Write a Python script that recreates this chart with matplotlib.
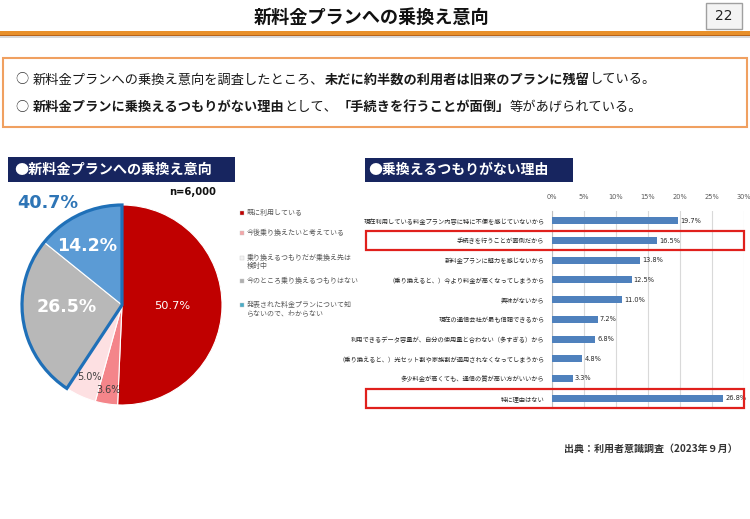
import numpy as np
import matplotlib
matplotlib.use('Agg')
import matplotlib.pyplot as plt
import matplotlib.transforms as mtransforms
from matplotlib.patches import Rectangle, Wedge

plt.rcParams['font.family'] = ['Noto Sans CJK JP', 'DejaVu Sans']

W, H = 750, 519

# ---- data ----
intent_labels = ['既に利用している',
                 '今後乗り換えたいと考えている',
                 '乗り換えるつもりだが乗換え先は\n検討中',
                 '今のところ乗り換えるつもりはない',
                 '発表された料金プランについて知\nらないので、わからない']
intent_values = np.array([50.7, 3.6, 5.0, 26.5, 14.2])
n_total = 6000

reason_labels = ['現在利用している料金プラン内容に特に不便を感じていないから',
                 '手続きを行うことが面倒だから',
                 '新料金プランに魅力を感じないから',
                 '（乗り換えると、）今より料金が高くなってしまうから',
                 '興味がないから',
                 '現在の通信会社が最も信頼できるから',
                 '利用できるデータ容量が、自分の使用量と合わない（多すぎる）から',
                 '（乗り換えると、）光セット割や家族割が適用されなくなってしまうから',
                 '多少料金が高くても、通信の質が高い方がいいから',
                 '特に理由はない']
reason_values = [19.7, 16.5, 13.8, 12.5, 11.0, 7.2, 6.8, 4.8, 3.3, 26.8]
highlight_rows = [1, 9]
x_ticks = [0, 5, 10, 15, 20, 25, 30]

# ---- styles ----
pie_colors = ['#C00000', '#F4858A', '#FDE0E2', '#B8B8B8', '#5B9BD5']
legend_colors = ['#C00000', '#F4A6A8', '#F2F2F2', '#B0B0B0', '#4BACC6']
navy = '#17255F'
orange = '#E8902A'

fig = plt.figure(figsize=(W / 100, H / 100), dpi=100)
bg = fig.add_axes([0, 0, 1, 1])
bg.set_xlim(0, W)
bg.set_ylim(H, 0)
bg.axis('off')
renderer = fig.canvas.get_renderer()


def seq_text(x, y, parts, size):
    # put text pieces one after another (mixed bold / normal)
    for s, w in parts:
        t = bg.text(x, y, s, fontsize=size, weight=w, va='center', ha='left',
                    color='#1A1A1A')
        x += t.get_window_extent(renderer=renderer).width


# header
bg.text(372, 17, '新料金プランへの乗換え意向', fontsize=13.1, weight='bold',
        ha='center', va='center', color='#111111')
bg.add_patch(Rectangle((706, 3), 36, 26, facecolor='#F4F4F4',
                       edgecolor='#A0A0A0', lw=1.0))
bg.text(724, 16, '22', fontsize=10, ha='center', va='center', color='#222222',
        family='DejaVu Sans')
bg.add_patch(Rectangle((0, 36), W, 2, facecolor='#D8D8D8', edgecolor='none'))
bg.add_patch(Rectangle((0, 31), W, 4.5, facecolor=orange, edgecolor='none'))
bg.add_patch(Rectangle((0, 34.5), W, 1.2, facecolor='#B8641A', edgecolor='none'))

# summary box
bg.add_patch(Rectangle((3, 58), 744, 69, facecolor='white',
                       edgecolor='#F0A060', lw=1.5))
bg.text(15, 80, '○', fontsize=9.5, va='center', color='#333333')
bg.text(15, 107, '○', fontsize=9.5, va='center', color='#333333')
seq_text(33, 80, [('新料金プランへの乗換え意向を調査したところ、', 'normal'),
                  ('未だに約半数の利用者は旧来のプランに残留', 'bold'),
                  ('している。', 'normal')], 9.5)
seq_text(33, 107, [('新料金プランに乗換えるつもりがない理由', 'bold'),
                   ('として、', 'normal'),
                   ('「手続きを行うことが面倒」', 'bold'),
                   ('等があげられている。', 'normal')], 9.5)

# section headings
bg.add_patch(Rectangle((8, 157), 227, 25, facecolor=navy, edgecolor='none'))
bg.text(14, 169.5, '●新料金プランへの乗換え意向', fontsize=10.2, weight='bold',
        color='white', va='center')
bg.add_patch(Rectangle((365, 158), 208, 24, facecolor=navy, edgecolor='none'))
bg.text(368, 170, '●乗換えるつもりがない理由', fontsize=10, weight='bold',
        color='white', va='center')

bg.text(169, 192, f'n={n_total:,}', fontsize=7.2, weight='bold', va='center',
        family='DejaVu Sans', color='#111111')

# ---- pie ----
ax_pie = fig.add_axes([22 / W, 1 - 405 / H, 200 / W, 200 / H])
ax_pie.pie(intent_values, colors=pie_colors, startangle=90, counterclock=False,
           radius=1, wedgeprops=dict(edgecolor='white', linewidth=0.8))
ax_pie.set_xlim(-1, 1)
ax_pie.set_ylim(-1, 1)
ax_pie.axis('off')

cum = np.concatenate([[0], np.cumsum(intent_values)])
mid = 90 - 360 * (cum[:-1] + intent_values / 2) / 100
lab_r = [0.5, 0.86, 0.79, 0.55, 0.68]
lab_dang = [0, 0, 0, -7, 5]
lab_size = [8.2, 7, 7, 12.5, 12.5]
lab_color = ['white', '#404040', '#404040', 'white', 'white']
lab_weight = ['normal', 'normal', 'normal', 'bold', 'bold']
for i, v in enumerate(intent_values):
    a = np.deg2rad(mid[i] + lab_dang[i])
    ax_pie.text(lab_r[i] * np.cos(a), lab_r[i] * np.sin(a), f'{v:.1f}%',
                ha='center', va='center', fontsize=lab_size[i], color=lab_color[i],
                weight=lab_weight[i], family='DejaVu Sans', zorder=5)

# outline of the "not switching" group
start = cum[3] / 100
ax_pie.add_patch(Wedge((0, 0), 1, 90, 90 + (1 - start) * 360, fill=False,
                       edgecolor='#1F70B8', lw=2.3, zorder=4, clip_on=False))
bg.text(48, 203, f'{intent_values[3] + intent_values[4]:.1f}%', fontsize=12.7,
        weight='bold', color='#2E75B6', ha='center', va='center',
        family='DejaVu Sans')

# legend
leg_y = [213, 233, 258, 281, 305]
for lab, c, y in zip(intent_labels, legend_colors, leg_y):
    bg.add_patch(Rectangle((240, y - 2), 4, 4, facecolor=c, edgecolor='#C8C8C8',
                           lw=0.3))
    bg.text(247, y - 3.6, lab, fontsize=5, color='#595959', va='top', ha='left',
            linespacing=0.95)

# ---- bar chart ----
ax_bar = fig.add_axes([551.5 / W, 1 - 408 / H, 192 / W, 197 / H])
y_pos = np.arange(len(reason_values))
ax_bar.barh(y_pos, reason_values, height=0.36, color='#4F81BD', zorder=3)
ax_bar.set_xlim(0, 30)
ax_bar.set_ylim(len(reason_values) - 0.5, -0.5)
ax_bar.xaxis.tick_top()
ax_bar.set_xticks(x_ticks)
ax_bar.set_xticklabels([f'{t}%' for t in x_ticks], family='DejaVu Sans')
ax_bar.set_yticks(y_pos)
ax_bar.set_yticklabels(reason_labels)
ax_bar.tick_params(axis='x', length=0, pad=8, labelsize=4.8, labelcolor='#595959')
ax_bar.tick_params(axis='y', length=0, pad=5, labelsize=4.5, labelcolor='#262626')
ax_bar.grid(axis='x', color='#D9D9D9', lw=0.8, zorder=0)
for s in ['top', 'right', 'bottom']:
    ax_bar.spines[s].set_visible(False)
ax_bar.spines['left'].set_color('#BFBFBF')
ax_bar.spines['left'].set_linewidth(0.8)
for i, v in enumerate(reason_values):
    ax_bar.text(v + 0.35, i, f'{v:.1f}%', va='center', ha='left', fontsize=4.8,
                color='#262626', family='DejaVu Sans')

tr = mtransforms.blended_transform_factory(ax_bar.transAxes, ax_bar.transData)
for r in highlight_rows:
    ax_bar.add_patch(Rectangle((-0.966, r - 0.48), 1.966, 0.96, transform=tr,
                               fill=False, edgecolor='#E0201C', lw=1.6,
                               clip_on=False, zorder=6))

bg.text(738, 449, '出典：利用者意識調査（2023年９月）', fontsize=7.2, weight='bold',
        ha='right', va='center', color='#333333')

fig.savefig('out.png', dpi=100)
